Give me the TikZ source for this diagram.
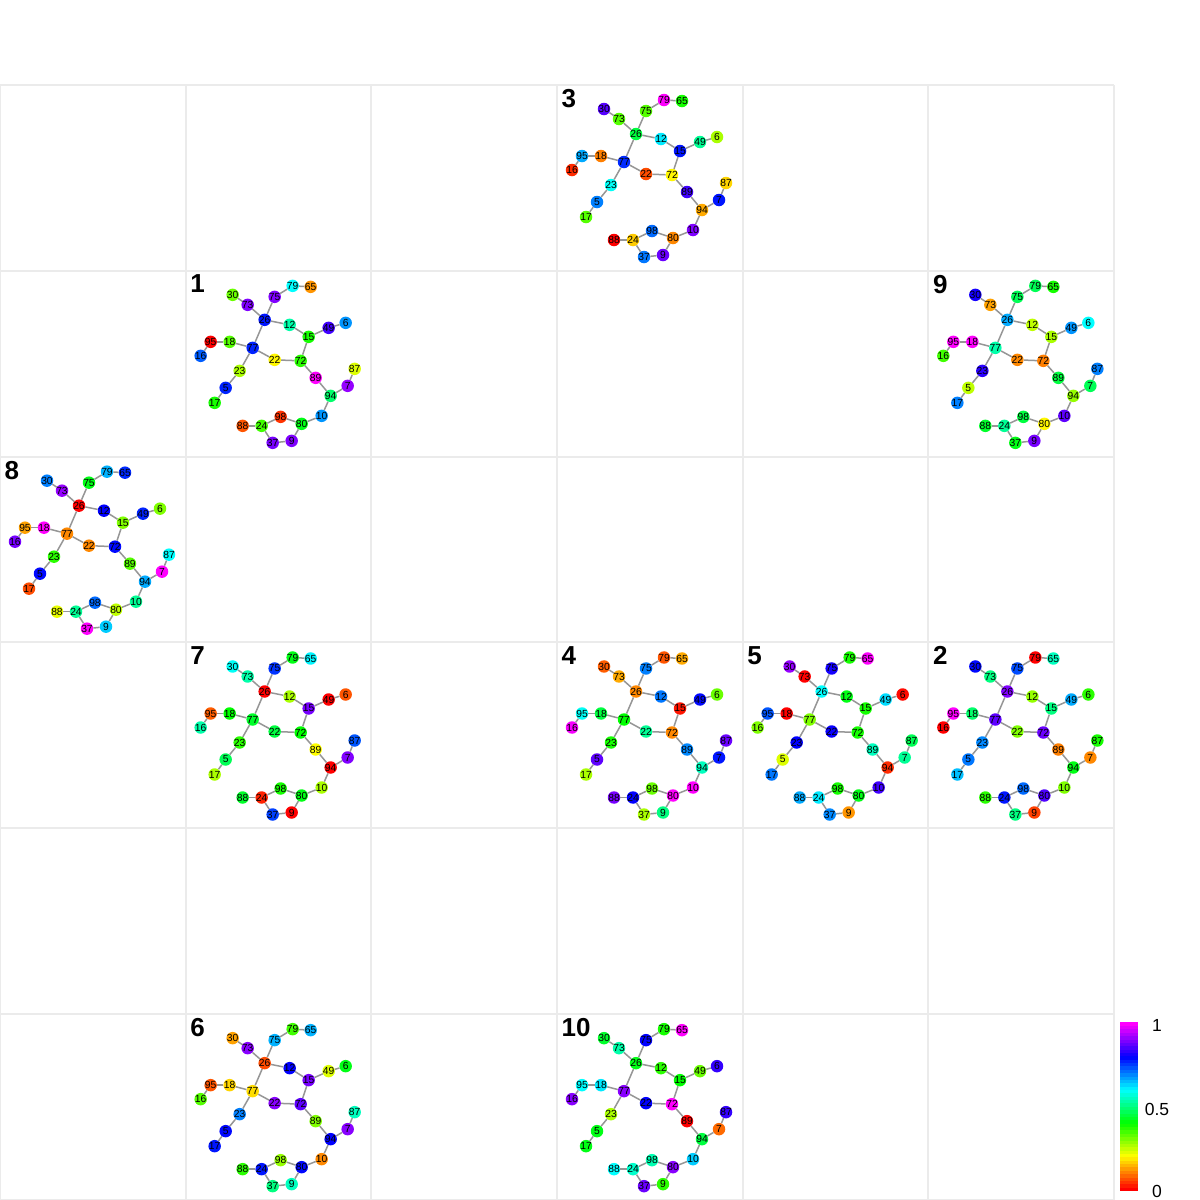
\documentclass[tikz,border=0pt]{standalone}
\usepackage{fontspec}
\setmainfont{Liberation Sans}
\definecolor{gridgrey}{RGB}{235,235,235}
\definecolor{edgegrey}{RGB}{150,150,150}

% one panel: #1 label, #2 column, #3 row, #4 node/hue list
\newcommand\netpanel[4]{%
\begin{scope}[shift={({#2*185.67},{85+#3*185.83})}]
\node[panellab] (lab#1) at (4.5,4) {#1};
\foreach \n/\x/\y in {79/107/15,65/125/16,30/47/24,73/62/34,75/89/26,26/79/49,
  12/104/54,49/143/57,6/160/52,15/123/66,95/25/71,18/44/71,77/67/77,16/15/85,
  22/89/89,72/115/90,87/169/98,23/54/100,89/130/107,7/162/115,5/40/117,
  94/145/125,17/29/132,10/136/145,98/95/146,80/116/153,88/57/155,24/76/155,
  37/87/172,9/106/170} \coordinate (q\n) at (\x,\y);
\foreach \n/\h in {#4} { \definecolor{hc}{Hsb}{\h,1,1}\colorlet{nc}[rgb]{hc}
  \node[gnode,fill=nc] (p#1-\n) at (q\n) {\makebox[0pt]{\n}}; }
\foreach \a/\b in {79/65,75/79,30/73,73/26,75/26,26/12,26/77,12/15,15/49,49/6,
  15/72,95/18,95/16,18/77,77/22,77/23,22/72,72/89,23/5,5/17,89/94,94/7,7/87,
  94/10,10/80,80/98,80/9,98/24,24/88,24/37,37/9} \draw[gedge] (p#1-\a) -- (p#1-\b);
\end{scope}}

\begin{document}
\begin{tikzpicture}[x=1pt,y=-1pt,
  gnode/.style={circle,inner sep=0pt,minimum size=12.5pt,font=\fontsize{10.3}{11}\selectfont},
  gedge/.style={draw=edgegrey,line width=1.5pt},
  panellab/.style={anchor=north west,inner sep=0pt,font=\fontsize{26}{28}\selectfont\bfseries},
  gridline/.style={draw=gridgrey,line width=2pt},
  barlab/.style={inner sep=0pt,font=\fontsize{17.5}{19}\selectfont}]
\fill[white] (0,0) rectangle (1200,1200);
\useasboundingbox (0,0) rectangle (1200,1200);
\foreach \c in {0,...,6} \draw[gridline] ({\c*185.67},85) -- ({\c*185.67},1200);
\foreach \r in {0,...,6} \draw[gridline] (0,{85+\r*185.83}) -- (1114,{85+\r*185.83});

\netpanel{3}{3}{0}{79/300,65/115,30/260,73/100,75/100,26/135,12/185,49/155,6/80,
  15/235,95/200,18/30,77/230,16/10,22/18,72/58,87/50,23/178,89/255,7/235,5/210,
  94/40,17/100,10/270,98/215,80/32,88/0,24/48,37/212,9/265}
\netpanel{1}{1}{1}{79/180,65/35,30/95,73/270,75/270,26/235,12/160,49/255,6/205,
  15/115,95/0,18/100,77/232,16/218,22/58,72/110,87/68,23/80,89/300,7/275,5/232,
  94/145,17/115,10/205,98/12,80/125,88/20,24/105,37/268,9/270}
\netpanel{9}{5}{1}{79/140,65/115,30/245,73/38,75/140,26/200,12/75,49/205,6/180,
  15/80,95/300,18/300,77/160,16/105,22/32,72/30,87/210,23/250,89/135,7/140,5/75,
  94/85,17/210,10/262,98/135,80/58,88/130,24/155,37/125,9/268}
\netpanel{8}{0}{2}{79/198,65/230,30/210,73/275,75/125,26/0,12/240,49/232,6/90,
  15/90,95/38,18/300,77/32,16/268,22/32,72/238,87/180,23/110,89/100,7/300,5/238,
  94/200,17/18,10/155,98/215,80/75,88/65,24/155,37/300,9/192}
\netpanel{7}{1}{3}{79/125,65/182,30/178,73/160,75/228,26/0,12/80,49/0,6/20,
  15/268,95/22,18/120,77/130,16/160,22/135,72/120,87/220,23/110,89/60,7/270,5/140,
  94/0,17/80,10/80,98/115,80/125,88/130,24/8,37/225,9/0}
\netpanel{4}{3}{3}{79/20,65/40,30/22,73/40,75/210,26/32,12/212,49/238,6/95,
  15/5,95/178,18/135,77/120,16/298,22/155,72/32,87/265,23/115,89/208,7/235,5/262,
  94/165,17/80,10/300,98/95,80/300,88/268,24/240,37/80,9/150}
\netpanel{5}{4}{3}{79/115,65/300,30/275,73/0,75/245,26/180,12/125,49/188,6/2,
  15/115,95/220,18/0,77/90,16/90,22/242,72/115,87/140,23/240,89/165,7/155,5/68,
  94/10,17/212,10/255,98/115,80/125,88/200,24/185,37/208,9/35}
\netpanel{2}{5}{3}{79/0,65/165,30/238,73/150,75/222,26/270,12/85,49/200,6/110,
  15/150,95/300,18/145,77/262,16/0,22/90,72/265,87/115,23/208,89/30,7/32,5/212,
  94/125,17/195,10/90,98/215,80/258,88/110,24/235,37/150,9/15}
\netpanel{6}{1}{5}{79/105,65/198,30/38,73/272,75/198,26/18,12/240,49/68,6/125,
  15/268,95/20,18/50,77/52,16/100,22/272,72/262,87/165,23/210,89/90,7/272,5/238,
  94/240,17/235,10/32,98/85,80/238,88/110,24/235,37/150,9/165}
\netpanel{10}{3}{5}{79/115,65/300,30/130,73/160,75/240,26/125,12/110,49/95,6/252,
  15/120,95/180,18/185,77/272,16/272,22/240,72/300,87/252,23/80,89/0,7/25,5/125,
  94/135,17/125,10/192,98/162,80/272,88/180,24/168,37/265,9/110}

% colour bar
\foreach \i in {0,...,49} {
  \pgfmathsetmacro{\hh}{\i*300/49}
  \definecolor{hc}{Hsb}{\hh,1,1}\colorlet{cb}[rgb]{hc}
  \fill[cb] (1120,{1191-\i*3.366}) rectangle (1138,{1191-(\i+1)*3.366-0.3}); }
\node[barlab] (bar1) at (1157,1025) {1};
\node[barlab] (bar05) at (1157,1109) {0.5};
\node[barlab] (bar0) at (1157,1191) {0};
\end{tikzpicture}
\end{document}
